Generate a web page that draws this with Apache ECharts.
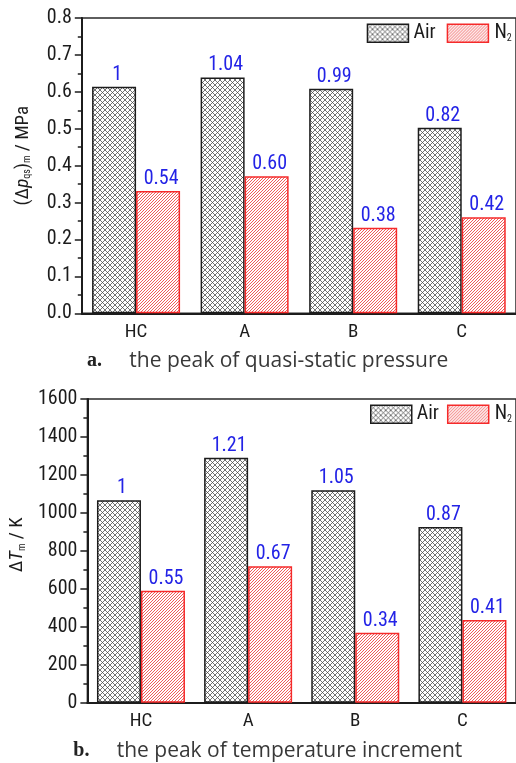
<!DOCTYPE html>
<html>
<head>
<meta charset="utf-8">
<script src="https://cdn.jsdelivr.net/npm/echarts@6/dist/echarts.min.js"></script>
<style>
html,body{margin:0;padding:0;background:#fff;}
#chart{width:516px;height:763px;}
</style>
</head>
<body>
<div id="chart"></div>
<script>
const categories = ['HC', 'A', 'B', 'C'];
const pressureAir = [0.614, 0.639, 0.608, 0.503];
const pressureN2 = [0.331, 0.371, 0.232, 0.260];
const pressureAirLabels = ['1', '1.04', '0.99', '0.82'];
const pressureN2Labels = ['0.54', '0.60', '0.38', '0.42'];
const tempAir = [1066, 1291, 1119, 926];
const tempN2 = [590, 719, 369, 436];
const tempAirLabels = ['1', '1.21', '1.05', '0.87'];
const tempN2Labels = ['0.55', '0.67', '0.34', '0.41'];
const seriesNames = ['Air', 'N2'];

const NARROW = "'Roboto Condensed', 'Liberation Sans', sans-serif";
const INK = '#1c1c1c';
const BLUE = '#2323e6';
const RED = '#f52a2a';

function crossPattern() {
  const s = 5;
  const c = document.createElement('canvas');
  c.width = s; c.height = s;
  const g = c.getContext('2d');
  g.fillStyle = '#fff'; g.fillRect(0, 0, s, s);
  g.strokeStyle = '#444'; g.lineWidth = 0.75;
  g.beginPath();
  for (const k of [-s, 0, s]) {
    g.moveTo(k, 0); g.lineTo(k + s, s);
    g.moveTo(k, s); g.lineTo(k + s, 0);
  }
  g.stroke();
  return c;
}
function hatchPattern() {
  const s = 3;
  const c = document.createElement('canvas');
  c.width = s; c.height = s;
  const g = c.getContext('2d');
  g.fillStyle = '#fff'; g.fillRect(0, 0, s, s);
  g.strokeStyle = '#ee4848'; g.lineWidth = 0.9;
  g.beginPath();
  for (const k of [-s, 0, s]) {
    g.moveTo(k, s); g.lineTo(k + s, 0);
  }
  g.stroke();
  return c;
}
const airFill = { image: crossPattern(), repeat: 'repeat' };
const n2Fill = { image: hatchPattern(), repeat: 'repeat' };
const airStyle = { color: airFill, borderColor: INK, borderWidth: 1.5 };
const n2Style = { color: n2Fill, borderColor: RED, borderWidth: 1.5 };

const chart = echarts.init(document.getElementById('chart'), null, { renderer: 'canvas' });

function xAxis(gi) {
  return {
    type: 'category', gridIndex: gi, data: categories,
    axisLine: { lineStyle: { color: INK, width: 2 } },
    axisTick: { show: false },
    axisLabel: { fontSize: 19, color: INK, fontFamily: NARROW, margin: 9 }
  };
}
function yAxis(gi, min, max, interval, fmt, name, gap, shift) {
  return {
    type: 'value', gridIndex: gi, min: min, max: max, interval: interval,
    axisLine: { show: true, lineStyle: { color: INK, width: 2 } },
    axisTick: { show: true, length: 7, lineStyle: { color: INK, width: 1.5 } },
    minorTick: { show: true, splitNumber: 2, length: 4, lineStyle: { color: INK, width: 1.5 } },
    splitLine: { show: false },
    axisLabel: { formatter: fmt, fontSize: 20, color: INK, fontFamily: NARROW, margin: 10 },
    name: name, nameLocation: 'middle', nameGap: gap, nameRotate: 90,
    nameTextStyle: { rich: nameRich, padding: [0, 0, 0, shift] }
  };
}
const nameRich = {
  t: { fontSize: 19, fontFamily: NARROW, color: INK },
  i: { fontSize: 19, fontFamily: NARROW, color: INK, fontStyle: 'italic' },
  s: { fontSize: 10, fontFamily: NARROW, color: INK, padding: [9, 0, 0, 0] }
};

function barSeries(name, xi, data, labels, style) {
  return {
    type: 'bar', name: name, xAxisIndex: xi, yAxisIndex: xi, data: data,
    barWidth: 44, barGap: '0%',
    itemStyle: style,
    label: {
      show: true, position: 'top', distance: 2, offset: [3, 0],
      formatter: p => labels[p.dataIndex],
      color: BLUE, fontSize: 20, fontFamily: NARROW
    },
    emphasis: { disabled: true }
  };
}
function legend(top, left, gap) {
  return {
    top: top, left: left, padding: 0,
    itemWidth: 41, itemHeight: 18, itemGap: gap, icon: 'rect',
    selectedMode: false,
    data: [
      { name: seriesNames[0], itemStyle: airStyle },
      { name: seriesNames[1], itemStyle: n2Style }
    ],
    formatter: n => n === 'N2' ? '{n|N}{s|2}' : n,
    textStyle: {
      fontSize: 20, fontFamily: NARROW, color: INK,
      rich: {
        n: { fontSize: 20, fontFamily: NARROW, color: INK, padding: [0, 0, 0, 1] },
        s: { fontSize: 10, fontFamily: NARROW, color: INK, padding: [10, 0, 0, 0] }
      }
    }
  };
}

const option = {
  animation: false,
  backgroundColor: '#fff',
  grid: [
    { left: 81.8, top: 18, width: 436, height: 295.3, show: true, borderColor: '#2a2a2a', borderWidth: 1.5 },
    { left: 81.8, top: 399, width: 436, height: 303.7, show: true, borderColor: '#2a2a2a', borderWidth: 1.5 }
  ],
  legend: [legend(23.3, 366.7, 11), legend(404.3, 370, 8)],
  xAxis: [xAxis(0), xAxis(1)],
  yAxis: [
    yAxis(0, 0, 0.8, 0.1, v => v.toFixed(1),
      '{t|(Δ}{i|p}{s|qs}{t|)}{s|m}{t| / MPa}', 49, 20),
    yAxis(1, 0, 1600, 200, v => String(v),
      '{t|Δ}{i|T}{s|m}{t| / K}', 52, 12)
  ],
  series: [
    barSeries(seriesNames[0], 0, pressureAir, pressureAirLabels, airStyle),
    barSeries(seriesNames[1], 0, pressureN2, pressureN2Labels, n2Style),
    barSeries(seriesNames[0], 1, tempAir, tempAirLabels, airStyle),
    barSeries(seriesNames[1], 1, tempN2, tempN2Labels, n2Style)
  ],
  graphic: [
    { type: 'text', x: 87, y: 361, style: { text: 'a.', font: 'bold 20px "Liberation Serif"', fill: '#222', verticalAlign: 'middle' } },
    { type: 'text', x: 129.3, y: 361, style: { text: 'the peak of quasi-static pressure', font: '21px "Open Sans"', fill: '#383838', verticalAlign: 'middle' } },
    { type: 'text', x: 73.3, y: 751, style: { text: 'b.', font: 'bold 20px "Liberation Serif"', fill: '#222', verticalAlign: 'middle' } },
    { type: 'text', x: 116.7, y: 751, style: { text: 'the peak of temperature increment', font: '21px "Open Sans"', fill: '#383838', verticalAlign: 'middle' } }
  ]
};
chart.setOption(option);
</script>
</body>
</html>
